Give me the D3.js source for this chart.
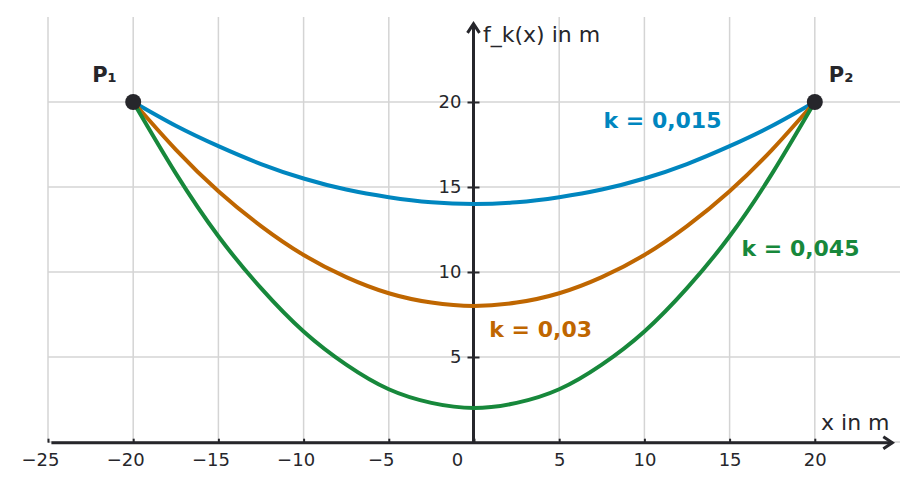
<!DOCTYPE html>
<html>
<head>
<meta charset="utf-8">
<script src="https://cdn.jsdelivr.net/npm/d3@7"></script>
<style>
  body { margin: 0; background: #fff; }
  text { font-family: "DejaVu Sans", sans-serif; }
</style>
</head>
<body>
<svg id="chart" width="917" height="491"></svg>
<script>
// values at x = -20 .. 20, step 2.5 (curves are symmetric)
const xSamples = [-20, -17.5, -15, -12.5, -10, -7.5, -5, -2.5, 0, 2.5, 5, 7.5, 10, 12.5, 15, 17.5, 20];
const halfK015 = [20, 18.6, 17.4, 16.35, 15.5, 14.85, 14.4, 14.1, 14];
const halfK030 = [20, 17.2, 14.75, 12.7, 11, 9.7, 8.75, 8.2, 8];
const halfK045 = [20, 15.8, 12.1, 9.05, 6.5, 4.55, 3.1, 2.3, 2];
const mirror = h => h.concat(h.slice(0, -1).reverse());

const seriesNames = ["k = 0,015", "k = 0,03", "k = 0,045"];
const seriesColors = ["#0086bf", "#bf6600", "#17883b"];
const seriesValues = [mirror(halfK015), mirror(halfK030), mirror(halfK045)];
const labelPos = [[7.6, 18.45], [0.9, 6.2], [15.7, 10.95]];   // data coords of label start

const pointNames = ["P\u2081", "P\u2082"];
const pointX = [-20, 20];
const pointY = [20, 20];

const xTicks = [-25, -20, -15, -10, -5, 0, 5, 10, 15, 20];
const yTicks = [5, 10, 15, 20];
const xGrid = [-25, -20, -15, -10, -5, 5, 10, 15, 20];
const yGrid = [0, 5, 10, 15, 20];

const svg = d3.select("#chart");
const x = d3.scaleLinear().domain([-25, 25]).range([48, 900]);
const y = d3.scaleLinear().domain([0, 25]).range([442, 17]);
const dark = "#26262b";

// grid
svg.append("g").selectAll("line").data(xGrid).join("line")
    .attr("x1", d => x(d)).attr("x2", d => x(d))
    .attr("y1", y(0)).attr("y2", y(25))
    .attr("stroke", "#d4d4d4").attr("stroke-width", 1.5);
svg.append("g").selectAll("line").data(yGrid).join("line")
    .attr("x1", x(-25)).attr("x2", x(25))
    .attr("y1", d => y(d)).attr("y2", d => y(d))
    .attr("stroke", "#d4d4d4").attr("stroke-width", 1.5);

// x axis
const xAxis = svg.append("g")
    .attr("transform", `translate(0,${y(0) + 0.7})`)
    .call(d3.axisBottom(x).tickValues(xTicks).tickSize(-4).tickPadding(11)
        .tickFormat(d => d < 0 ? "\u2212" + Math.abs(d) : d));
xAxis.select(".domain").remove();
xAxis.selectAll(".tick line").attr("stroke", dark).attr("stroke-width", 2);
xAxis.selectAll(".tick text")
    .attr("font-size", 18).attr("fill", dark)
    .attr("font-family", "DejaVu Sans")
    .attr("dx", d => d < 0 ? -8 : (d === 0 ? -17 : 0));

svg.append("line")
    .attr("x1", x(-24.8)).attr("x2", x(24.55))
    .attr("y1", y(0) + 0.7).attr("y2", y(0) + 0.7)
    .attr("stroke", dark).attr("stroke-width", 3);
svg.append("path")
    .attr("d", `M${x(24.55) - 9},${y(0) - 5.3}L${x(24.55)},${y(0) + 0.7}L${x(24.55) - 9},${y(0) + 6.7}`)
    .attr("fill", "none").attr("stroke", dark).attr("stroke-width", 3);

// y axis
const yAxis = svg.append("g")
    .attr("transform", `translate(${x(0) - 0.5},0)`)
    .call(d3.axisLeft(y).tickValues(yTicks).tickSize(6).tickPadding(6));
yAxis.select(".domain").remove();
yAxis.selectAll(".tick line").attr("x2", -6).attr("x1", 6).attr("stroke", dark).attr("stroke-width", 2);
yAxis.selectAll(".tick text").attr("font-size", 18).attr("fill", dark).attr("font-family", "DejaVu Sans");

svg.append("line")
    .attr("x1", x(0) - 0.5).attr("x2", x(0) - 0.5)
    .attr("y1", y(0)).attr("y2", y(24.6))
    .attr("stroke", dark).attr("stroke-width", 3);
svg.append("path")
    .attr("d", `M${x(0) - 6.5},${y(24.6) + 9}L${x(0) - 0.5},${y(24.6)}L${x(0) + 5.5},${y(24.6) + 9}`)
    .attr("fill", "none").attr("stroke", dark).attr("stroke-width", 3);

svg.append("text").attr("x", x(0) + 9).attr("y", 42)
    .attr("font-size", 22).attr("fill", dark).text("f_k(x) in m");
svg.append("text").attr("x", 821).attr("y", 430)
    .attr("font-size", 22).attr("fill", dark).text("x in m");

// curves
const line = d3.line().x((d, i) => x(xSamples[i])).y(d => y(d)).curve(d3.curveNatural);
svg.append("g").selectAll("path").data(seriesValues).join("path")
    .attr("d", line)
    .attr("fill", "none")
    .attr("stroke", (d, i) => seriesColors[i])
    .attr("stroke-width", 4);

svg.append("g").selectAll("text").data(seriesNames).join("text")
    .attr("x", (d, i) => x(labelPos[i][0]))
    .attr("y", (d, i) => y(labelPos[i][1]))
    .attr("font-size", 22).attr("font-weight", "bold")
    .attr("fill", (d, i) => seriesColors[i])
    .text(d => d);

// end points
svg.append("g").selectAll("circle").data(pointX).join("circle")
    .attr("cx", d => x(d)).attr("cy", (d, i) => y(pointY[i]))
    .attr("r", 8).attr("fill", dark);
svg.append("g").selectAll("text").data(pointNames).join("text")
    .attr("x", (d, i) => x(pointX[i]) + (i === 0 ? -41 : 14))
    .attr("y", (d, i) => y(pointY[i]) - 20)
    .attr("font-size", 21).attr("font-weight", "bold").attr("fill", dark)
    .text(d => d);
</script>
</body>
</html>
